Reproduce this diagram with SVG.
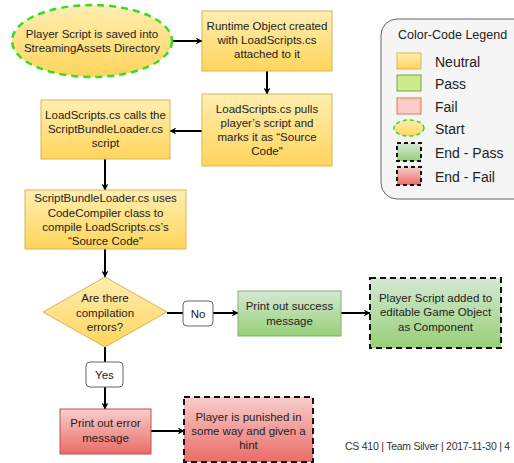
<svg xmlns="http://www.w3.org/2000/svg" width="514" height="463" viewBox="0 0 514 463">
<defs>
<linearGradient id="gY" x1="0" y1="0" x2="0" y2="1"><stop offset="0" stop-color="#ffeeb0"/><stop offset="1" stop-color="#ffd55c"/></linearGradient>
<linearGradient id="gG" x1="0" y1="0" x2="0" y2="1"><stop offset="0" stop-color="#d5e8d4"/><stop offset="1" stop-color="#97d077"/></linearGradient>
<linearGradient id="gR" x1="0" y1="0" x2="0" y2="1"><stop offset="0" stop-color="#f8cecc"/><stop offset="1" stop-color="#ea6b66"/></linearGradient>
<marker id="arr" viewBox="0 0 10 10" refX="9" refY="5" markerWidth="7" markerHeight="7" markerUnits="userSpaceOnUse" orient="auto"><path d="M0,0 L10,5 L0,10 L3,5 Z" fill="#000"/></marker>
</defs>
<style>
text{font-family:"Liberation Sans",Arial,sans-serif;font-size:11.5px;fill:#222;text-anchor:middle}
.neu{fill:url(#gY);stroke:#d6b656;stroke-width:1}
.pass{fill:url(#gG);stroke:#82b366;stroke-width:1}
.fail{fill:url(#gR);stroke:#b85450;stroke-width:1}
.endp{fill:url(#gG);stroke:#111;stroke-width:2;stroke-dasharray:6 4}
.endf{fill:url(#gR);stroke:#111;stroke-width:2;stroke-dasharray:6 4}
.start{fill:url(#gY);stroke:#33dd22;stroke-width:2.5;stroke-dasharray:7 5}
.lbl{fill:#fff;stroke:#666;stroke-width:1}
.edge{fill:none;stroke:#000;stroke-width:2}
.leg text{font-size:14px;text-anchor:start;fill:#222}
</style>
<g id="connectors">
<path class="edge" d="M173,41 L202,41" marker-end="url(#arr)"/>
<path class="edge" d="M267,71 L267,94" marker-end="url(#arr)"/>
<path class="edge" d="M202,131 L170,131" marker-end="url(#arr)"/>
<path class="edge" d="M105,159 L105,190" marker-end="url(#arr)"/>
<path class="edge" d="M105,249 L105,277" marker-end="url(#arr)"/>
<path class="edge" d="M167,313 L238,313" marker-end="url(#arr)"/>
<path class="edge" d="M341,313 L370,313" marker-end="url(#arr)"/>
<path class="edge" d="M105,347 L105,409" marker-end="url(#arr)"/>
<path class="edge" d="M151,431 L184,431" marker-end="url(#arr)"/>
</g>
<g id="start">
<ellipse class="start" cx="92" cy="41" rx="80" ry="36"/>
<text x="92" y="38">Player Script is saved into</text>
<text x="92" y="52">StreamingAssets Directory</text>
</g>
<g id="runtime">
<rect class="neu" x="202" y="11" width="130" height="60"/>
<text x="267" y="30">Runtime Object created</text>
<text x="267" y="44">with LoadScripts.cs</text>
<text x="267" y="58">attached to it</text>
</g>
<g id="pulls">
<rect class="neu" x="202" y="94" width="130" height="72"/>
<text x="267" y="113">LoadScripts.cs pulls</text>
<text x="267" y="127">player’s script and</text>
<text x="267" y="141">marks it as “Source</text>
<text x="267" y="155">Code"</text>
</g>
<g id="calls">
<rect class="neu" x="41" y="100" width="129" height="59"/>
<text x="105.5" y="119">LoadScripts.cs calls the</text>
<text x="105.5" y="133">ScriptBundleLoader.cs</text>
<text x="105.5" y="147">script</text>
</g>
<g id="compile">
<rect class="neu" x="25" y="190" width="161" height="59"/>
<text x="105.5" y="202">ScriptBundleLoader.cs uses</text>
<text x="105.5" y="217">CodeCompiler class to</text>
<text x="105.5" y="231">compile LoadScripts.cs’s</text>
<text x="105.5" y="245">“Source Code"</text>
</g>
<g id="decision">
<path class="neu" d="M105,277 L167,312 L105,347 L43,312 Z"/>
<text x="105" y="302">Are there</text>
<text x="105" y="317">compilation</text>
<text x="105" y="331">errors?</text>
</g>
<g id="no-label">
<rect class="lbl" x="183" y="301" width="30" height="25" rx="4"/>
<text x="198" y="318">No</text>
</g>
<g id="success">
<rect class="pass" x="238" y="291" width="103" height="45"/>
<text x="289.5" y="310">Print out success</text>
<text x="289.5" y="325">message</text>
</g>
<g id="end-pass">
<rect class="endp" x="370" y="278" width="131" height="70"/>
<text x="435.5" y="302">Player Script added to</text>
<text x="435.5" y="316">editable Game Object</text>
<text x="435.5" y="331">as Component</text>
</g>
<g id="yes-label">
<rect class="lbl" x="86" y="362" width="37" height="25" rx="4"/>
<text x="104.5" y="379">Yes</text>
</g>
<g id="error">
<rect class="fail" x="60" y="409" width="91" height="45"/>
<text x="105.5" y="427">Print out error</text>
<text x="105.5" y="442">message</text>
</g>
<g id="end-fail">
<rect class="endf" x="184" y="397" width="129" height="65"/>
<text x="248.5" y="421">Player is punished in</text>
<text x="248.5" y="435">some way and given a</text>
<text x="248.5" y="449">hint</text>
</g>
<g id="legend" class="leg">
<rect x="381" y="19" width="150" height="180" rx="16" fill="#f5f5f5" stroke="#666" stroke-width="1"/>
<text x="398" y="39" style="font-size:12.5px">Color-Code Legend</text>
<rect x="397" y="53" width="24" height="16" fill="url(#gY)" stroke="#d6b656"/>
<text x="435" y="67">Neutral</text>
<rect x="397" y="75" width="24" height="16" fill="#cdeb8b" stroke="#6aa84f"/>
<text x="435" y="89">Pass</text>
<rect x="397" y="98" width="24" height="16" fill="#ffcccc" stroke="#e07b39"/>
<text x="435" y="112">Fail</text>
<ellipse cx="409" cy="128" rx="15" ry="8" fill="url(#gY)" stroke="#33dd22" stroke-width="1.5" stroke-dasharray="4 3"/>
<text x="435" y="134">Start</text>
<rect x="397" y="143" width="24" height="18" fill="url(#gG)" stroke="#111" stroke-width="2" stroke-dasharray="4 3"/>
<text x="435" y="158">End - Pass</text>
<rect x="397" y="167" width="24" height="18" fill="url(#gR)" stroke="#111" stroke-width="2" stroke-dasharray="4 3"/>
<text x="435" y="182">End - Fail</text>
</g>
<text x="345" y="450" style="text-anchor:start;font-size:10.5px;fill:#333;letter-spacing:-0.25px">CS 410 | Team Silver | 2017-11-30 | 4</text>
</svg>
